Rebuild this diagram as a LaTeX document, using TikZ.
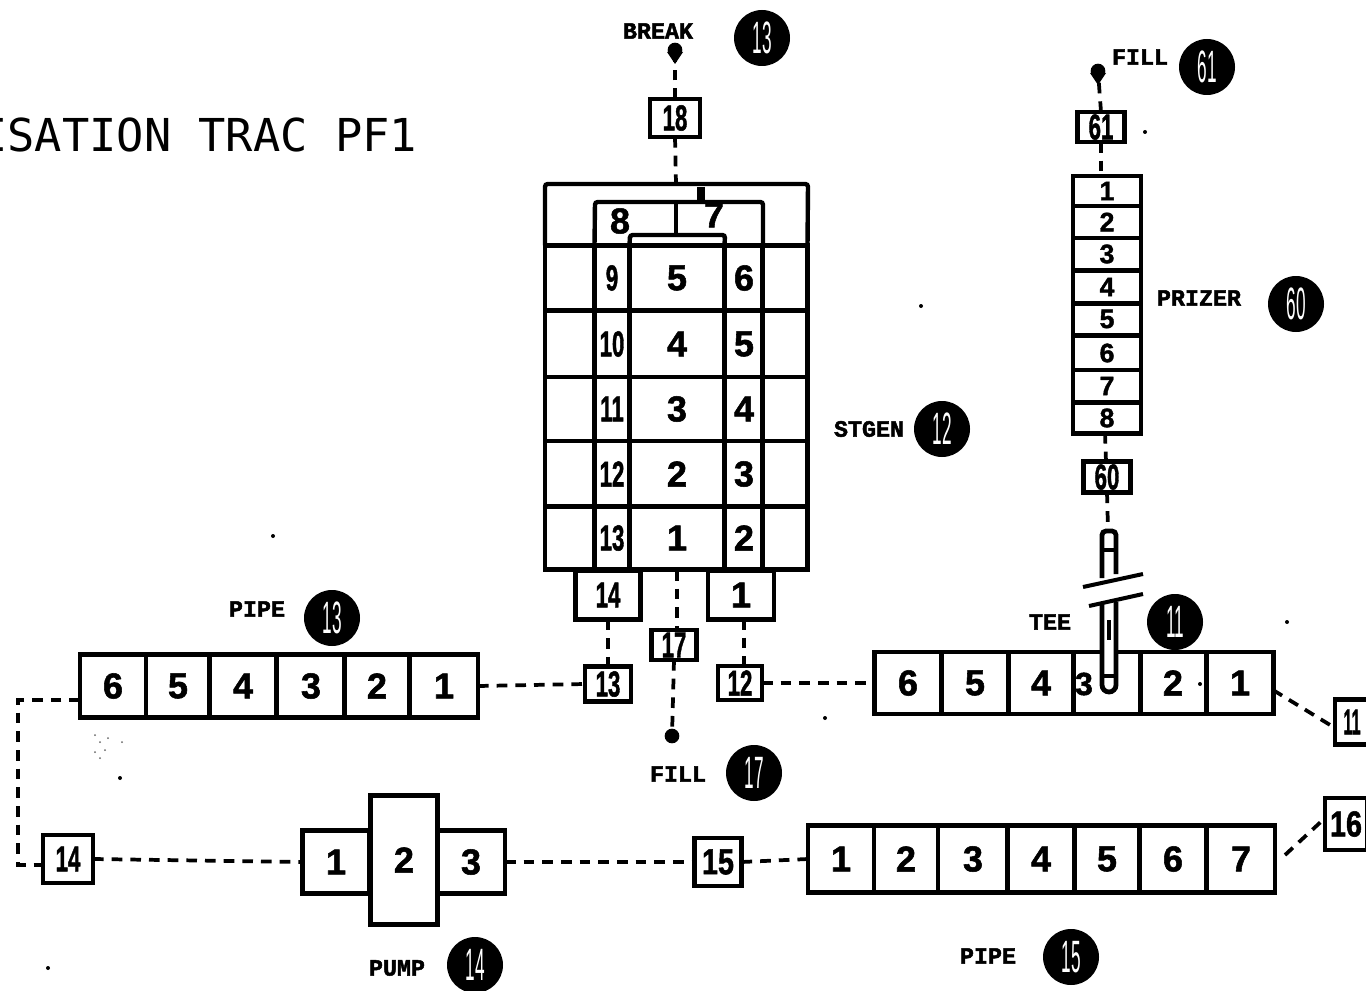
\documentclass[tikz,border=0pt]{standalone}
\usepackage{fontspec}
\setmainfont{Liberation Sans}[BoldFeatures={FakeBold=1.5}]
\newfontfamily\labelfont{Liberation Mono}[BoldFeatures={FakeBold=2}]
\newfontfamily\titlefont{DejaVu Sans Mono}
\tikzset{
  cellbox/.style={draw=black,line width=3.3pt,inner sep=0pt,outer sep=0pt,font=\fontsize{27}{27}\selectfont\bfseries,text=black},
  pipelink/.style={draw=black,line width=2.8pt,dash pattern=on 8pt off 6pt},
  tagtext/.style={font=\labelfont\bfseries\fontsize{17.5}{18}\selectfont,inner sep=0pt,text=black},
  badge/.style={circle,fill=black,text=white,minimum size=42pt,inner sep=0pt,font=\fontsize{34}{34}\selectfont},
  enddot/.style={circle,fill=black,minimum size=11pt,inner sep=0pt},
  speck/.style={circle,fill=black,inner sep=0pt,minimum size=3pt}
}
\newcommand\cellat[6]{\node[cellbox,minimum width=#4*0.75pt,minimum height=#5*0.75pt] (#1) at (#2,#3) {#6};}
\newcommand\nar[1]{\scalebox{.62}[1]{#1}}
\newcommand\wid[1]{\scalebox{.8}[1]{#1}}
\newcommand\slim[1]{\scalebox{.38}[1]{#1}}
\begin{document}
\begin{tikzpicture}[x=0.75pt,y=-0.75pt]
\useasboundingbox (0,0) rectangle (1366,991);
\fill[white] (0,0) rectangle (1366,991);
\clip (0,0) rectangle (1366,991);

% title
\node[anchor=west,inner sep=0pt,font=\titlefont\fontsize{34}{34}\selectfont] (title) at (-20,135) {ISATION TRAC PF1};

% STGEN
\cellat{sA1}{570}{278}{50}{65}{}
\cellat{sA2}{570}{344}{50}{66}{}
\cellat{sA3}{570}{409}{50}{64}{}
\cellat{sA4}{570}{474}{50}{66}{}
\cellat{sA5}{570}{538}{50}{63}{}
\cellat{sE1}{785}{278}{45}{65}{}
\cellat{sE2}{785}{344}{45}{66}{}
\cellat{sE3}{785}{409}{45}{64}{}
\cellat{sE4}{785}{474}{45}{66}{}
\cellat{sE5}{785}{538}{45}{63}{}
\cellat{sB1}{612}{278}{35}{65}{\nar{9}}
\cellat{sB2}{612}{344}{35}{66}{\nar{10}}
\cellat{sB3}{612}{409}{35}{64}{\nar{11}}
\cellat{sB4}{612}{474}{35}{66}{\nar{12}}
\cellat{sB5}{612}{538}{35}{63}{\nar{13}}
\cellat{sC1}{677}{278}{95}{65}{5}
\cellat{sC2}{677}{344}{95}{66}{4}
\cellat{sC3}{677}{409}{95}{64}{3}
\cellat{sC4}{677}{474}{95}{66}{2}
\cellat{sC5}{677}{538}{95}{63}{1}
\cellat{sD1}{744}{278}{38}{65}{6}
\cellat{sD2}{744}{344}{38}{66}{5}
\cellat{sD3}{744}{409}{38}{64}{4}
\cellat{sD4}{744}{474}{38}{66}{3}
\cellat{sD5}{744}{538}{38}{63}{2}
\draw[line width=3.3pt,rounded corners=2pt] (sA1.north west) -- (545,184) -- (808,184) -- (sE1.north east);
\draw[line width=3.3pt,rounded corners=2pt] (sB1.north west) -- (595,202) -- (763,202) -- (sD1.north east);
\draw[line width=3.3pt,rounded corners=2pt] (sC1.north west) -- (630,235) -- (725,235) -- (sC1.north east);
\draw[line width=3.3pt] (676,202) -- (676,235);
\draw[line width=6pt] (701,187) -- (701,202);
\node[font=\fontsize{27}{27}\selectfont\bfseries] (n8) at (620,221) {8};
\node[font=\fontsize{27}{27}\selectfont\bfseries] (n7) at (714,215) {7};

% stgen feet
\cellat{foot14}{608}{595}{65}{49}{\nar{14}}
\cellat{foot1}{741}{595}{66}{49}{1}

% small boxes
\cellat{b18}{675}{118}{50}{38}{\nar{18}}
\cellat{b61}{1101}{127}{47}{30}{\nar{61}}
\cellat{b60}{1107}{477}{47}{31}{\nar{60}}
\cellat{b17}{674}{645}{45}{30}{\nar{17}}
\cellat{b13}{608}{684}{46}{35}{\nar{13}}
\cellat{b12}{740}{683}{44}{34}{\nar{12}}
\cellat{b11}{1352}{722}{34}{45}{\scalebox{.45}[1]{11}}
\cellat{b14}{68}{859}{50}{48}{\nar{14}}
\cellat{b15}{718}{862}{47}{48}{\wid{15}}
\cellat{b16}{1346}{824}{42}{52}{\wid{16}}

% left pipe
\cellat{lp6}{113}{686}{66}{63}{6}
\cellat{lp5}{178}{686}{64}{63}{5}
\cellat{lp4}{243}{686}{67}{63}{4}
\cellat{lp3}{311}{686}{68}{63}{3}
\cellat{lp2}{377}{686}{65}{63}{2}
\cellat{lp1}{444}{686}{68}{63}{1}

% right pipe with tee
\cellat{rp6}{908}{683}{67}{62}{6}
\cellat{rp5}{975}{683}{67}{62}{5}
\cellat{rp4}{1041}{683}{64}{62}{4}
\cellat{rp3}{1107}{683}{67}{62}{}
\cellat{rp2}{1173}{683}{66}{62}{2}
\cellat{rp1}{1240}{683}{67}{62}{1}
\node[font=\fontsize{24}{24}\selectfont\bfseries] (rp3n) at (1084,684) {3};

% bottom right pipe
\cellat{bp1}{841}{859}{66}{67}{1}
\cellat{bp2}{906}{859}{64}{67}{2}
\cellat{bp3}{973}{859}{70}{67}{3}
\cellat{bp4}{1041}{859}{67}{67}{4}
\cellat{bp5}{1107}{859}{65}{67}{5}
\cellat{bp6}{1173}{859}{67}{67}{6}
\cellat{bp7}{1241}{859}{68}{67}{7}

% pump
\cellat{pu1}{336}{862}{67}{63}{1}
\cellat{pu3}{471}{862}{68}{63}{3}
\cellat{pu2}{404}{860}{67}{129}{2}

% prizer
\cellat{pz1}{1107}{191}{68}{30}{\fontsize{20}{20}\selectfont 1}
\cellat{pz2}{1107}{222}{68}{32}{\fontsize{20}{20}\selectfont 2}
\cellat{pz3}{1107}{254}{68}{32}{\fontsize{20}{20}\selectfont 3}
\cellat{pz4}{1107}{287}{68}{33}{\fontsize{20}{20}\selectfont 4}
\cellat{pz5}{1107}{319}{68}{32}{\fontsize{20}{20}\selectfont 5}
\cellat{pz6}{1107}{353}{68}{34}{\fontsize{20}{20}\selectfont 6}
\cellat{pz7}{1107}{386}{68}{32}{\fontsize{20}{20}\selectfont 7}
\cellat{pz8}{1107}{418}{68}{31}{\fontsize{20}{20}\selectfont 8}

% tee branch
\draw[line width=3.6pt,rounded corners=3pt] (1102,578) -- (1102,531) -- (1116,531) -- (1116,574);
\draw[line width=3pt] (1102,550) -- (1116,550);
\draw[line width=3.6pt,fill=white] (1102,602) -- (1102,685) arc (180:0:7) -- (1116,602);
\draw[line width=3pt] (1109,620) -- (1109,640);
\draw[line width=2.4pt] (1102,676) -- (1116,676);
\draw[line width=3pt] (1083,587) -- (1143,574);
\draw[line width=3pt] (1089,606) -- (1143,594);
\coordinate (teetop) at (1108,530);

% ends
\node[enddot] (breakdot) at (675,50) {};
\node[enddot] (fill61dot) at (1098,71) {};
\node[enddot] (filldot) at (672,736) {};
\fill (667,52) -- (683,52) -- (675,64) -- cycle;
\fill (1090,73) -- (1106,73) -- (1098,85) -- cycle;

% connectors
\coordinate (stTop) at (676,184);
\coordinate (stBottom) at (677,570);
\coordinate (foot1s) at (744,619);
\coordinate (b12n) at (744,666);
\coordinate (b17n) at (677,630);
\coordinate (lpw) at (80,700);
\coordinate (cA) at (18,700);
\coordinate (cB) at (18,865);
\coordinate (b14w) at (43,865);
\coordinate (rpe) at (1273,690);
\coordinate (b11w) at (1335,728);
\coordinate (bpe) at (1285,855);
\coordinate (b16w) at (1325,818);
\coordinate (pzTop) at (1101,176);
\coordinate (pzBot) at (1105,433);
\coordinate (b60n) at (1106,462);
\draw[pipelink] (b18.north) -- (breakdot);
\draw[pipelink] (b18.south) -- (stTop);
\draw[pipelink] (stBottom) -- (b17n);
\draw[pipelink] (b17.south) -- (filldot);
\draw[pipelink] (foot14.south) -- (b13.north);
\draw[pipelink] (foot1s) -- (b12n);
\draw[pipelink] (lp1.east) -- (b13.west);
\draw[pipelink] (b12.east) -- (rp6.west);
\draw[pipelink] (rpe) -- (b11w);
\draw[pipelink] (lpw) -- (cA) -- (cB) -- (b14w);
\draw[pipelink] (b14.east) -- (pu1.west);
\draw[pipelink] (pu3.east) -- (b15.west);
\draw[pipelink] (b15.east) -- (bp1.west);
\draw[pipelink] (bpe) -- (b16w);
\draw[pipelink] (b61.north) -- (fill61dot);
\draw[pipelink] (b61.south) -- (pzTop);
\draw[pipelink] (pzBot) -- (b60n);
\draw[pipelink] (b60.south) -- (teetop);

% labels
\node[tagtext] (tBreak) at (658,31) {BREAK};
\node[tagtext] (tFill61) at (1140,57) {FILL};
\node[tagtext] (tPrizer) at (1199,298) {PRIZER};
\node[tagtext] (tStgen) at (869,429) {STGEN};
\node[tagtext] (tTee) at (1050,622) {TEE};
\node[tagtext] (tPipeL) at (257,609) {PIPE};
\node[tagtext] (tFill) at (678,774) {FILL};
\node[tagtext] (tPump) at (397,968) {PUMP};
\node[tagtext] (tPipeB) at (988,956) {PIPE};

% badges
\node[badge] (c18) at (762,38) {\slim{13}};
\node[badge] (c61) at (1207,67) {\slim{61}};
\node[badge] (c60) at (1296,304) {\slim{60}};
\node[badge] (c12) at (942,429) {\slim{12}};
\node[badge] (c11) at (1175,622) {\slim{11}};
\node[badge] (c13) at (332,618) {\slim{13}};
\node[badge] (c17) at (754,773) {\slim{17}};
\node[badge] (c14) at (475,965) {\slim{14}};
\node[badge] (c15) at (1071,957) {\slim{15}};

% specks
\foreach \p/\q in {273/536,921/306,48/968,1145/132,120/778,1200/684,825/718,1287/622}{
  \node[speck] at (\p,\q) {};
}
\foreach \p/\q in {95/735,100/742,108/738,95/752,105/750,122/742,100/758}{
  \fill[black!60] (\p,\q) circle (1);
}
\end{tikzpicture}
\end{document}
